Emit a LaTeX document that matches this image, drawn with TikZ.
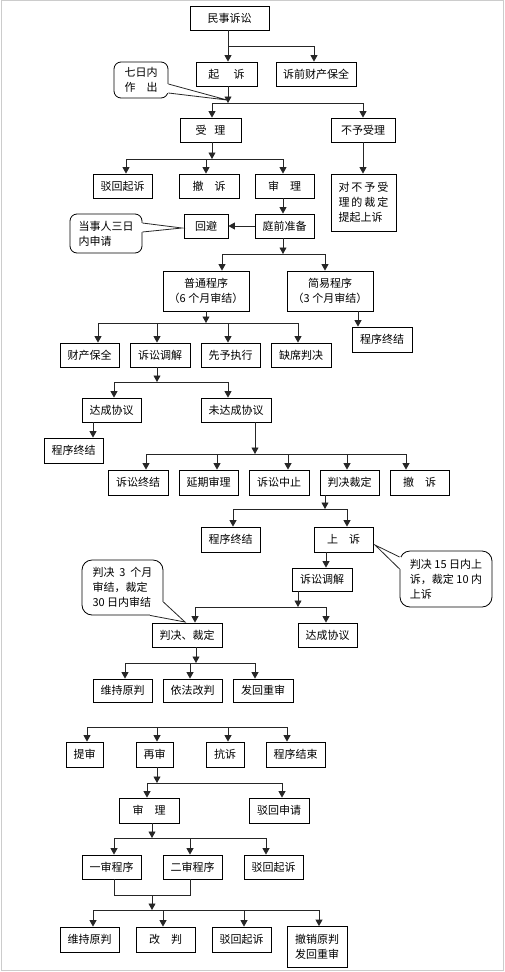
\documentclass[tikz,border=0pt]{standalone}
\usepackage{fontspec}
\setmainfont{Noto Sans CJK SC}
\usetikzlibrary{arrows.meta}

\begin{document}
\begin{tikzpicture}[x=1pt,y=-1pt,font=\fontsize{11}{15}\selectfont,
  >={Triangle[length=6.5pt,width=7pt]},
  box/.style={draw=black,line width=0.8pt,fill=white,align=center,inner sep=1pt,
              minimum width=59pt,minimum height=24pt},
  note/.style={draw=black,line width=0.8pt,fill=white,align=left,inner sep=1pt,
               rounded corners=7pt},
  conn/.style={draw=black!85,line width=0.8pt},
  arr/.style={conn,->}]

\useasboundingbox (0,0) rectangle (505,972);
\draw[black!20,line width=1pt] (1.5,0.5) rectangle (503,970.5);

% ---- filing and acceptance ----
\node[box,minimum width=79pt] (minshi) at (229.5,18) {民事诉讼};
\node[box,minimum width=61pt] (qisu) at (226.5,74) {起\hspace{1.3em}诉};
\node[box,minimum width=80pt] (suqian) at (316,74) {诉前财产保全};
\node[box,minimum width=61pt] (shouli) at (210.5,130) {受\hspace{0.7em}理};
\node[box,minimum width=64pt] (buyu) at (363,130) {不予受理};

% ---- first instance ----
\node[box] (bohui1) at (122.5,186) {驳回起诉};
\node[box,minimum width=60pt] (chesu1) at (209,186) {撤\hspace{1em}诉};
\node[box] (shenli1) at (284.5,186) {审\hspace{1em}理};
\node[box,minimum width=65pt,minimum height=57pt,align=left] (duibuyu) at (363.5,202.5)
  {对\hspace{2pt}不\hspace{2pt}予\hspace{2pt}受\\理\hspace{2pt}的\hspace{2pt}裁\hspace{2pt}定\\提起上诉};
\node[box] (tingqian) at (284.5,226) {庭前准备};
\node[box,minimum width=44pt] (huibi) at (206,226) {回避};
\node[box,minimum width=86pt,minimum height=40pt] (putong) at (206,291) {普通程序\\（6 个月审结）};
\node[box,minimum width=86pt,minimum height=40pt] (jianyi) at (330,291) {简易程序\\（3 个月审结）};
\node[box,minimum width=60pt,minimum height=25pt] (zhongjie1) at (382,339.5) {程序终结};

\node[box] (caichan) at (89.5,355) {财产保全};
\node[box,minimum width=60pt] (tiaojie1) at (160,355) {诉讼调解};
\node[box] (xianyu) at (230.5,355) {先予执行};
\node[box,minimum width=60pt] (quexi) at (301,355) {缺席判决};
\node[box] (dacheng1) at (111.5,410) {达成协议};
\node[box,minimum width=70pt] (weida) at (236,410) {未达成协议};
\node[box,minimum height=25pt] (zhongjie2) at (73.5,450.5) {程序终结};

\node[box,minimum width=60pt,minimum height=25pt] (susongzj) at (138,482.5) {诉讼终结};
\node[box,minimum height=25pt] (yanqi) at (208.5,482.5) {延期审理};
\node[box,minimum width=60pt,minimum height=25pt] (zhongzhi) at (279,482.5) {诉讼中止};
\node[box,minimum height=25pt] (panjue1) at (349.5,482.5) {判决裁定};
\node[box,minimum height=25pt] (chesu2) at (419.5,482.5) {撤\hspace{1em}诉};

% ---- appeal ----
\node[box,minimum height=25pt] (zhongjie3) at (230.5,539.5) {程序终结};
\node[box,minimum height=25pt] (shangsu) at (343.5,539.5) {上\hspace{1em}诉};
\node[box,minimum width=60pt,minimum height=23pt] (tiaojie2) at (322,579.5) {诉讼调解};
\node[box,minimum width=70pt] (panjue2) at (187,635) {判决、裁定};
\node[box] (dacheng2) at (327.5,635) {达成协议};
\node[box,minimum height=23pt] (weichi1) at (122.5,690.5) {维持原判};
\node[box,minimum height=23pt] (yifa) at (192.5,690.5) {依法改判};
\node[box,minimum width=60pt,minimum height=23pt] (fahui) at (263,690.5) {发回重审};

% ---- retrial ----
\node[box,minimum width=37pt,minimum height=25pt] (tishen) at (84.5,754.5) {提审};
\node[box,minimum width=37pt,minimum height=25pt] (zaishen) at (154.5,754.5) {再审};
\node[box,minimum width=38pt,minimum height=25pt] (kangsu) at (225,754.5) {抗诉};
\node[box,minimum height=25pt] (jieshu) at (295.5,754.5) {程序结束};
\node[box,minimum width=60pt,minimum height=25pt] (shenli2) at (149,810.5) {审\hspace{1em}理};
\node[box,minimum width=60pt,minimum height=25pt] (bohuisq) at (279,810.5) {驳回申请};
\node[box] (yishen) at (111.5,867) {一审程序};
\node[box] (ershen) at (192.5,867) {二审程序};
\node[box] (bohui2) at (273.5,867) {驳回起诉};
\node[box,minimum height=25pt] (weichi2) at (89.5,939.5) {维持原判};
\node[box,minimum height=25pt] (gaipan) at (165.5,939.5) {改\hspace{1em}判};
\node[box,minimum height=25pt] (bohui3) at (241.5,939.5) {驳回起诉};
\node[box,minimum width=60pt,minimum height=41pt] (chexiao) at (317,947) {撤销原判\\发回重审};

% ---- junctions ----
\coordinate (j1) at (228,46);
\coordinate (j2) at (228,103);
\coordinate (j3) at (212,159);
\coordinate (j4) at (283,254);
\coordinate (j5) at (206,323);
\coordinate (j6) at (157,382);
\coordinate (j7) at (255,454);
\coordinate (j8) at (325,509);
\coordinate (j9) at (298,607);
\coordinate (j10) at (196,663);
\coordinate (j11) at (87,727);
\coordinate (j12) at (157,783);
\coordinate (j13) at (152,838);
\coordinate (j14) at (152,895);
\coordinate (j15) at (152,910);

% ---- connectors ----
\draw[conn] (minshi.south -| j1) -- (j1);
\foreach \n/\dx in {qisu/1.5,suqian/-2} \draw[arr] (j1) -| ([xshift=\dx pt]\n.north);
\draw[arr] (qisu.south -| j2) -- (j2);
\foreach \n/\dx in {shouli/1.5,buyu/0} \draw[arr] (j2) -| ([xshift=\dx pt]\n.north);
\draw[arr] (shouli.south -| j3) -- (j3);
\foreach \n/\dx in {bohui1/3.5,chesu1/-3,shenli1/-1.5} \draw[arr] (j3) -| ([xshift=\dx pt]\n.north);
\draw[arr] (buyu.south) -- (buyu.south |- duibuyu.north);
\draw[arr] ([xshift=-1.5pt]shenli1.south) -- ([xshift=-1.5pt]tingqian.north);
\draw[arr] (tingqian.west) -- (huibi.east);
\draw[arr] (tingqian.south -| j4) -- (j4);
\foreach \n/\dx in {putong/16,jianyi/-5} \draw[arr] (j4) -| ([xshift=\dx pt]\n.north);
\draw[arr] ([xshift=-24pt]zhongjie1.north |- jianyi.south) -- ([xshift=-24pt]zhongjie1.north);
\draw[arr] (putong.south -| j5) -- (j5);
\foreach \n/\dx in {caichan/8.5,tiaojie1/-3,xianyu/-2.5,quexi/-3} \draw[arr] (j5) -| ([xshift=\dx pt]\n.north);
\draw[arr] (tiaojie1.south -| j6) -- (j6);
\foreach \n/\dx in {dacheng1/2.5,weida/-8} \draw[arr] (j6) -| ([xshift=\dx pt]\n.north);
\draw[arr] ([xshift=-18.5pt]dacheng1.south) -- ([xshift=-18.5pt]dacheng1.south |- zhongjie2.north);
\draw[arr] (weida.south -| j7) -- (j7);
\foreach \n/\dx in {susongzj/8,yanqi/8.5,zhongzhi/9,panjue1/-2.5,chesu2/-13.5} \draw[arr] (j7) -| ([xshift=\dx pt]\n.north);
\draw[arr] (panjue1.south -| j8) -- (j8);
\foreach \n/\dx in {zhongjie3/2.5,shangsu/3.5} \draw[arr] (j8) -| ([xshift=\dx pt]\n.north);
\draw[arr] ([xshift=4pt]tiaojie2.north |- shangsu.south) -- ([xshift=4pt]tiaojie2.north);
\draw[arr] (tiaojie2.south -| j9) -- (j9);
\foreach \n/\dx in {panjue2/8,dacheng2/-1.5} \draw[arr] (j9) -| ([xshift=\dx pt]\n.north);
\draw[arr] (panjue2.south -| j10) -- (j10);
\foreach \n/\dx in {weichi1/2.5,yifa/-2.5,fahui/-8} \draw[arr] (j10) -| ([xshift=\dx pt]\n.north);
\foreach \n/\dx in {tishen/2.5,zaishen/2.5,kangsu/3,jieshu/-8.5} \draw[arr] (j11) -| ([xshift=\dx pt]\n.north);
\draw[arr] (zaishen.south -| j12) -- (j12);
\foreach \n/\dx in {shenli2/-2,bohuisq/3} \draw[arr] (j12) -| ([xshift=\dx pt]\n.north);
\draw[arr] (shenli2.south -| j13) -- (j13);
\foreach \n/\dx in {yishen/2.5,ershen/-2.5,bohui2/-7.5} \draw[arr] (j13) -| ([xshift=\dx pt]\n.north);
\draw[conn] ([xshift=2.5pt]yishen.south) |- (j14) -| ([xshift=-2.5pt]ershen.south);
\draw[arr] (j14) -- (j15);
\foreach \n/\dx in {weichi2/3.5,gaipan/-2.5,bohui3/2.5,chexiao/2} \draw[arr] (j15) -| ([xshift=\dx pt]\n.north);

% ---- time-limit notes ----
\node[note,minimum width=54pt,minimum height=36pt] (c1) at (141,80) {七日内\\作\hspace{1em}出};
\node[note,minimum width=72pt,minimum height=39pt] (c2) at (106,233.5) {当事人三日\\内申请};
\node[note,minimum width=92pt,minimum height=56pt,rounded corners=10pt] (c3) at (446,579)
  {判决 15 日内上\\诉，裁定 10 内\\上诉};
\node[note,minimum width=81pt,minimum height=55pt,rounded corners=10pt] (c4) at (122.5,587.5)
  {判决\ \ 3\ \ 个月\\审结，裁定\\30 日内审结};

\coordinate (t1) at (227,100);
\coordinate (t2) at (182,228);
\coordinate (t3) at (375,545);
\coordinate (t4) at (185,622);

% tails, opened into the note boxes
\fill[white] ([shift={(-1.5pt,-4pt)}]c1.east) -- ([yshift=-4pt]c1.east) -- (t1)
  -- ([yshift=-13pt]c1.east) -- ([shift={(-1.5pt,-13pt)}]c1.east) -- cycle;
\draw[conn] ([yshift=-4pt]c1.east) -- (t1) -- ([yshift=-13pt]c1.east);
\fill[white] ([shift={(-1.5pt,10.5pt)}]c2.east) -- ([yshift=10.5pt]c2.east) -- (t2)
  -- ([yshift=1.5pt]c2.east) -- ([shift={(-1.5pt,1.5pt)}]c2.east) -- cycle;
\draw[conn] ([yshift=10.5pt]c2.east) -- (t2) -- ([yshift=1.5pt]c2.east);
\fill[white] ([shift={(1.5pt,22pt)}]c3.west) -- ([yshift=22pt]c3.west) -- (t3)
  -- ([yshift=10pt]c3.west) -- ([shift={(1.5pt,10pt)}]c3.west) -- cycle;
\draw[conn] ([yshift=22pt]c3.west) -- (t3) -- ([yshift=10pt]c3.west);
\fill[white] ([shift={(-1.5pt,-14.5pt)}]c4.east) -- ([yshift=-14.5pt]c4.east) -- (t4)
  -- ([xshift=27.5pt]c4.south) -- ([shift={(27.5pt,1.5pt)}]c4.south) -- cycle;
\draw[conn] ([yshift=-14.5pt]c4.east) -- (t4) -- ([xshift=27.5pt]c4.south);
\end{tikzpicture}
\end{document}
